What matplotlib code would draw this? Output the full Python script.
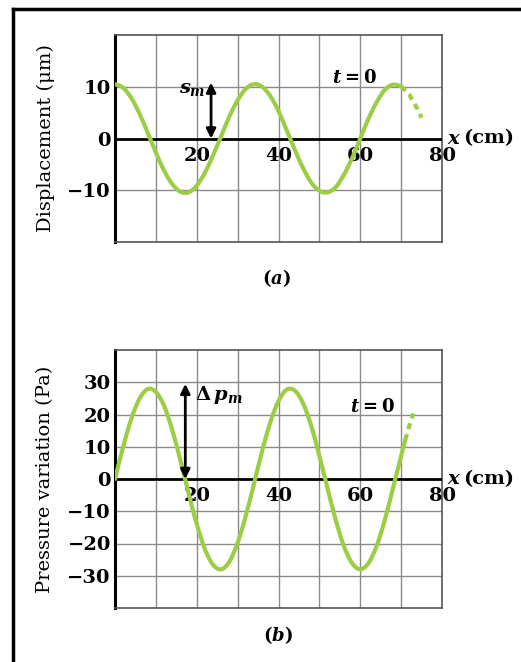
import matplotlib
matplotlib.use("Agg")
import matplotlib.pyplot as plt
from matplotlib.lines import Line2D
from matplotlib.path import Path
from matplotlib.patches import PathPatch

plt.rcParams['font.family'] = ['DejaVu Serif']
plt.rcParams['mathtext.fontset'] = 'custom'
plt.rcParams['mathtext.rm'] = 'DejaVu Serif:bold'
plt.rcParams['mathtext.it'] = 'DejaVu Serif:italic:bold'
plt.rcParams['mathtext.bf'] = 'DejaVu Serif:bold'

# values (x in cm)
x_pos = [0, 2, 4, 6, 8, 10, 12, 14, 16, 18, 20, 22, 24, 26, 28, 30, 32, 34,
         36, 38, 40, 42, 44, 46, 48, 50, 52, 54, 56, 58, 60, 62, 64, 66, 68, 70]
displacement = [10.5, 9.8, 7.8, 4.8, 1.1, -2.7, -6.2, -8.8, -10.3, -10.4, -9.1,
                -6.6, -3.2, 0.5, 4.3, 7.4, 9.6, 10.5, 10.0, 8.2, 5.3, 1.6, -2.2,
                -5.7, -8.5, -10.1, -10.4, -9.4, -7.0, -3.8, 0.0, 3.8, 7.0, 9.4,
                10.4, 10.1]
disp_dash_x = [70, 72, 74, 75]
disp_dash_y = [10.1, 8.5, 5.7, 4.0]

pressure_x = x_pos + [71]
pressure = [0.0, 10.0, 18.7, 24.9, 27.9, 27.0, 22.7, 15.2, 5.8, -4.4, -14.0,
            -21.8, -26.6, -28.0, -25.6, -19.8, -11.4, -1.5, 8.7, 17.6, 24.2,
            27.7, 27.4, 23.5, 16.5, 7.2, -2.9, -12.7, -20.8, -26.1, -28.0,
            -26.1, -20.8, -12.7, -2.9, 7.2, 12.1]
pres_dash_x = [71, 72, 73]
pres_dash_y = [12.1, 16.5, 20.3]

x_ticks = [20, 40, 60, 80]
disp_ticks = [-10, 0, 10]
pres_ticks = [-30, -20, -10, 0, 10, 20, 30]

s_m = 10.8
dp_m = 29.5

W, H = 521, 662
fig = plt.figure(figsize=(W / 100, H / 100), dpi=100)
fig.patch.set_facecolor('white')

green = '#9dcc45'
gridc = '#8a8a8a'


def smooth_curve(ax, xs, ys, **kw):
    # Catmull-Rom through the read points, drawn as cubic Bezier segments
    verts = [(xs[0], ys[0])]
    codes = [Path.MOVETO]
    n = len(xs)
    for i in range(n - 1):
        x0, y0 = (xs[i - 1], ys[i - 1]) if i > 0 else (xs[i], ys[i])
        x1, y1 = xs[i], ys[i]
        x2, y2 = xs[i + 1], ys[i + 1]
        x3, y3 = (xs[i + 2], ys[i + 2]) if i + 2 < n else (x2, y2)
        verts += [(x1 + (x2 - x0) / 6, y1 + (y2 - y0) / 6),
                  (x2 - (x3 - x1) / 6, y2 - (y3 - y1) / 6),
                  (x2, y2)]
        codes += [Path.CURVE4] * 3
    ax.add_patch(PathPatch(Path(verts, codes), fill=False, **kw))


def setup(ax, ylim, grid_y, ticks, label):
    ax.set_xlim(0, 80)
    ax.set_ylim(-ylim, ylim)
    ax.set_xticks([])
    ax.set_yticks(ticks)
    ax.set_yticklabels([str(t).replace('-', '\u2212') for t in ticks],
                       fontsize=14, fontweight='bold')
    ax.tick_params(axis='y', length=0, pad=3)
    for gx in range(10, 80, 10):
        ax.axvline(gx, color=gridc, lw=1.0, zorder=1)
    for gy in grid_y:
        ax.axhline(gy, color=gridc, lw=1.0, zorder=1)
    ax.axhline(0, color='black', lw=2, zorder=3)
    for side in ['top', 'right', 'bottom']:
        ax.spines[side].set_color('#555555')
        ax.spines[side].set_linewidth(1.2)
    ax.spines['left'].set_color('black')
    ax.spines['left'].set_linewidth(2.2)
    for t in x_ticks:
        ax.annotate(str(t), (t, 0), xytext=(0, -6), textcoords='offset points',
                    ha='center', va='top', fontsize=14, fontweight='bold')
    ax.annotate('x', (1, 0), xycoords=('axes fraction', 'data'), xytext=(4, 0),
                textcoords='offset points', ha='left', va='center',
                fontsize=14, fontweight='bold', fontstyle='italic',
                annotation_clip=False)
    ax.annotate('(cm)', (1, 0), xycoords=('axes fraction', 'data'), xytext=(15, 0),
                textcoords='offset points', ha='left', va='center',
                fontsize=14, fontweight='bold', annotation_clip=False)
    ax.set_ylabel(label, fontsize=14)
    ax.yaxis.set_label_coords(-0.185, 0.5)


ax1 = fig.add_axes([115 / W, 1 - 242 / H, 327 / W, 207 / H])
setup(ax1, 20, [-10, 10], disp_ticks, 'Displacement (\u03bcm)')
smooth_curve(ax1, x_pos, displacement, edgecolor=green, lw=3, capstyle='round',
             joinstyle='round', zorder=4)
ax1.plot(disp_dash_x, disp_dash_y, color=green, lw=3, ls=(0, (1.5, 1.2)), zorder=4)
ax1.annotate('', xy=(23.5, s_m), xytext=(23.5, 0),
             arrowprops=dict(arrowstyle='<|-|>', color='black', lw=2,
                             mutation_scale=14, shrinkA=0, shrinkB=0), zorder=5)
ax1.text(19, 9.6, r'$s_m$', fontsize=14, ha='center', va='center')
ax1.text(58.5, 11.7, r'$t = 0$', fontsize=13, ha='center', va='center')

ax2 = fig.add_axes([115 / W, 1 - 608 / H, 327 / W, 258 / H])
setup(ax2, 40, [-30, -20, -10, 10, 20, 30], pres_ticks, 'Pressure variation (Pa)')
smooth_curve(ax2, pressure_x, pressure, edgecolor=green, lw=3, capstyle='round',
             joinstyle='round', zorder=4)
ax2.plot(pres_dash_x, pres_dash_y, color=green, lw=3, ls=(0, (1.5, 1.2)), zorder=4)
ax2.annotate('', xy=(17.2, dp_m), xytext=(17.2, 0),
             arrowprops=dict(arrowstyle='<|-|>', color='black', lw=2,
                             mutation_scale=14, shrinkA=0, shrinkB=0), zorder=5)
ax2.text(19.5, 26, r'$\Delta\,p_m$', fontsize=14, ha='left', va='center')
ax2.text(63, 22.3, r'$t = 0$', fontsize=13, ha='center', va='center')

fig.text(276 / W, 1 - 278 / H, r'$(a)$', fontsize=13, ha='center', va='center')
fig.text(278 / W, 1 - 635 / H, r'$(b)$', fontsize=13, ha='center', va='center')

# frame lines at the top and left of the scan
fig.add_artist(Line2D([13 / W, 1], [1 - 8.5 / H, 1 - 8.5 / H], color='black', lw=2.5,
                      transform=fig.transFigure))
fig.add_artist(Line2D([13 / W, 13 / W], [0, 1 - 8.5 / H], color='black', lw=2.5,
                      transform=fig.transFigure))

fig.savefig('out.png', dpi=100, facecolor='white')
